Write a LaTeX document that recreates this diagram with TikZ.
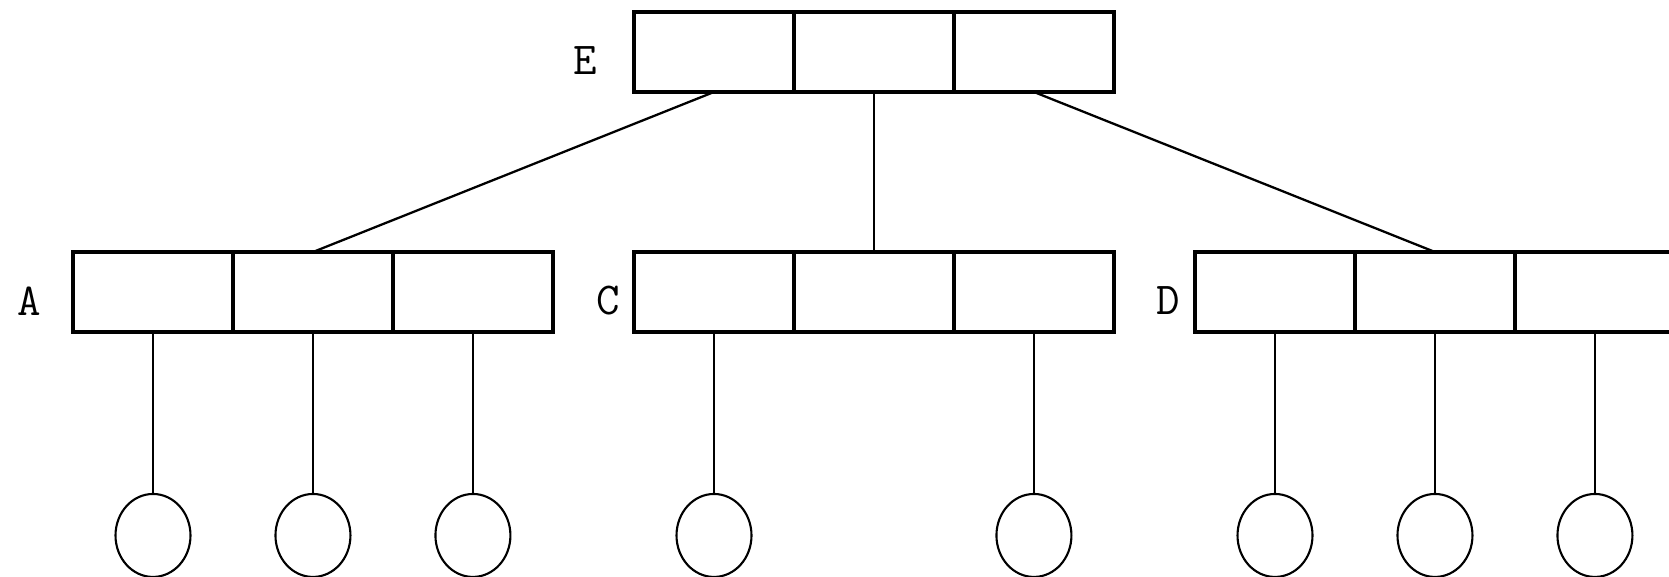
\documentclass[tikz,border=0pt]{standalone}
\usepackage{fontspec}
\usetikzlibrary{positioning,shapes.geometric}

\tikzset{
  cell/.style={draw, line width=1.9pt, minimum width=3.2cm, minimum height=1.6cm, outer sep=0pt, inner sep=0pt},
  leaf/.style={draw, ellipse, line width=1.2pt, minimum width=1.5cm, minimum height=1.66cm, outer sep=0pt, inner sep=0pt},
  link/.style={line width=1.3pt},
  tag/.style={font=\ttfamily\fontsize{26}{30}\selectfont, inner sep=0pt}
}

\begin{document}
\begin{tikzpicture}[x=0.02cm, y=-0.02cm]
  \clip (0,0) rectangle (1669,577);

  % top node
  \node[cell] (E1) at (714,52) {};
  \node[cell, right=0pt of E1] (E2) {};
  \node[cell, right=0pt of E2] (E3) {};
  \node[tag] (lE) at (585,61) {E};

  % second level
  \node[cell] (A1) at (153,292) {};
  \node[cell, right=0pt of A1] (A2) {};
  \node[cell, right=0pt of A2] (A3) {};
  \node[tag] (lA) at (29,301) {A};

  \node[cell] (C1) at (714,292) {};
  \node[cell, right=0pt of C1] (C2) {};
  \node[cell, right=0pt of C2] (C3) {};
  \node[tag] (lC) at (608,301) {C};

  \node[cell] (D1) at (1275,292) {};
  \node[cell, right=0pt of D1] (D2) {};
  \node[cell, right=0pt of D2] (D3) {};
  \node[tag] (lD) at (1168,301) {D};

  % leaves
  \node[leaf, below=3.24cm of A1] (a1) {};
  \node[leaf, below=3.24cm of A2] (a2) {};
  \node[leaf, below=3.24cm of A3] (a3) {};
  \node[leaf, below=3.24cm of C1] (c1) {};
  \node[leaf, below=3.24cm of C3] (c3) {};
  \node[leaf, below=3.24cm of D1] (d1) {};
  \node[leaf, below=3.24cm of D2] (d2) {};
  \node[leaf, below=3.24cm of D3] (d3) {};

  \draw[link] (E1.south) -- (A2.north);
  \draw[link] (E2.south) -- (C2.north);
  \draw[link] (E3.south) -- (D2.north);

  \draw[link] (A1.south) -- (a1.north);
  \draw[link] (A2.south) -- (a2.north);
  \draw[link] (A3.south) -- (a3.north);
  \draw[link] (C1.south) -- (c1.north);
  \draw[link] (C3.south) -- (c3.north);
  \draw[link] (D1.south) -- (d1.north);
  \draw[link] (D2.south) -- (d2.north);
  \draw[link] (D3.south) -- (d3.north);
\end{tikzpicture}
\end{document}
